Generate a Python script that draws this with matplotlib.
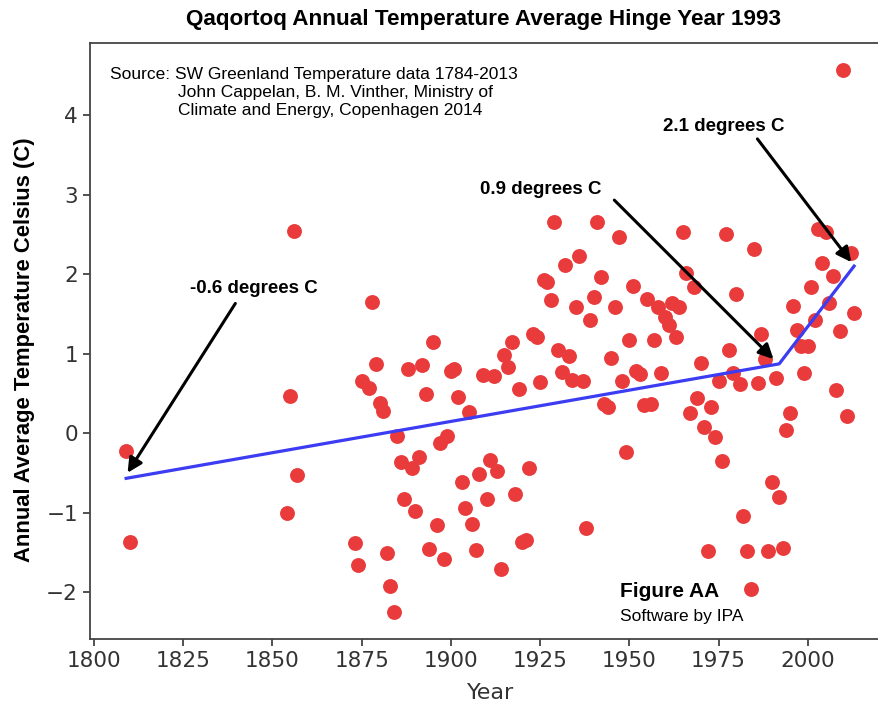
import matplotlib
matplotlib.use("Agg")
import matplotlib.pyplot as plt

# -- data --
years = [
    1809, 1810, 1854, 1855, 1856, 1857, 1873, 1874, 1875, 1877,
    1878, 1879, 1880, 1881, 1882, 1883, 1884, 1885, 1886, 1887,
    1888, 1889, 1890, 1891, 1892, 1893, 1894, 1895, 1896, 1897,
    1898, 1899, 1900, 1901, 1902, 1903, 1904, 1905, 1906, 1907,
    1908, 1909, 1910, 1911, 1912, 1913, 1914, 1915, 1916, 1917,
    1918, 1919, 1920, 1921, 1922, 1923, 1924, 1925, 1926, 1927,
    1928, 1929, 1930, 1931, 1932, 1933, 1934, 1935, 1936, 1937,
    1938, 1939, 1940, 1941, 1942, 1943, 1944, 1945, 1946, 1947,
    1948, 1949, 1950, 1951, 1952, 1953, 1954, 1955, 1956, 1957,
    1958, 1959, 1960, 1961, 1962, 1963, 1964, 1965, 1966, 1967,
    1968, 1969, 1970, 1971, 1972, 1973, 1974, 1975, 1976, 1977,
    1978, 1979, 1980, 1981, 1982, 1983, 1984, 1985, 1986, 1987,
    1988, 1989, 1990, 1991, 1992, 1993, 1994, 1995, 1996, 1997,
    1998, 1999, 2000, 2001, 2002, 2003, 2004, 2005, 2006, 2007,
    2008, 2009, 2010, 2011, 2012, 2013,
]
temps = [
    -0.23, -1.37, -1.01, 0.47, 2.54, -0.53, -1.38, -1.66, 0.66, 0.57,
    1.65, 0.87, 0.38, 0.28, -1.51, -1.93, -2.25, -0.04, -0.37, -0.83,
    0.81, -0.44, -0.98, -0.30, 0.85, 0.49, -1.46, 1.14, -1.16, -0.12,
    -1.58, -0.04, 0.78, 0.81, 0.45, -0.62, -0.94, 0.26, -1.14, -1.47,
    -0.52, 0.73, -0.83, -0.34, 0.72, -0.48, -1.71, 0.98, 0.83, 1.14,
    -0.77, 0.55, -1.37, -1.35, -0.44, 1.25, 1.21, 0.64, 1.93, 1.90,
    1.67, 2.65, 1.05, 0.77, 2.11, 0.97, 0.67, 1.59, 2.23, 0.66,
    -1.19, 1.42, 1.71, 2.65, 1.96, 0.37, 0.33, 0.94, 1.58, 2.46,
    0.66, -0.24, 1.17, 1.85, 0.78, 0.74, 0.35, 1.68, 0.36, 1.17,
    1.59, 0.75, 1.46, 1.36, 1.63, 1.21, 1.59, 2.53, 2.01, 0.25,
    1.84, 0.44, 0.88, 0.07, -1.48, 0.33, -0.05, 0.66, -0.35, 2.51,
    1.05, 0.75, 1.75, 0.62, -1.04, -1.49, -1.96, 2.31, 0.63, 1.24,
    0.93, -1.49, -0.61, 0.69, -0.81, -1.44, 0.04, 0.25, 1.60, 1.29,
    1.09, 0.76, 1.09, 1.84, 1.42, 2.57, 2.14, 2.53, 1.64, 1.97,
    0.54, 1.28, 4.57, 0.22, 2.27, 1.51,
]

# hinge fit: start, hinge, end
fit_years = [1809, 1992, 2013]
fit_temps = [-0.57, 0.87, 2.10]

# annotation labels, text centre and arrow tail/tip
ann_labels = ["-0.6 degrees C", "0.9 degrees C", "2.1 degrees C"]
ann_text_xy = [(1844.7, 1.82), (1925.2, 3.06), (1976.6, 3.85)]
ann_tail_xy = [(1839.6, 1.63), (1945.8, 2.93), (1985.9, 3.70)]
ann_tip_xy = [(1809.4, -0.50), (1990.4, 0.93), (2012.2, 2.15)]

source_lines = [
    "Source: SW Greenland Temperature data 1784-2013",
    "John Cappelan, B. M. Vinther, Ministry of",
    "Climate and Energy, Copenhagen 2014",
]

SANS = "Liberation Sans"
TICK_COLOR = "#333333"

fig = plt.figure(figsize=(8.79, 7.06), dpi=100)
ax = fig.add_axes([0.1021, 0.095, 0.911, 0.8445])

ax.scatter(years, temps, s=115, color="#e93b3b", zorder=2, linewidths=0)
ax.plot(fit_years, fit_temps, color="#3c3cf2", lw=2.3, zorder=3)

for label, txy, tail, tip in zip(ann_labels, ann_text_xy, ann_tail_xy, ann_tip_xy):
    ax.text(txy[0], txy[1], label, ha="center", va="center",
            fontsize=13.5, fontweight="bold", family=SANS, zorder=5)
    ax.annotate("", xy=tip, xytext=tail,
                arrowprops=dict(arrowstyle="-|>", color="black", lw=2.2,
                                mutation_scale=22, shrinkA=0, shrinkB=0),
                zorder=4)

ax.set_xlim(1798.8, 2023.2)
ax.set_ylim(-2.59, 4.91)
ax.set_xticks([1800, 1825, 1850, 1875, 1900, 1925, 1950, 1975, 2000])
ax.set_yticks([-2, -1, 0, 1, 2, 3, 4])
ax.tick_params(labelsize=15.5, colors=TICK_COLOR, width=1.2, length=5)
for side in ("left", "bottom", "top", "right"):
    ax.spines[side].set_color("#444444")
    ax.spines[side].set_linewidth(1.3)

ax.set_xlabel("Year", fontsize=16, color=TICK_COLOR, labelpad=9)
ax.set_ylabel("Annual Average Temperature Celsius (C)", fontsize=15.8,
              fontweight="bold", family=SANS)
ax.yaxis.set_label_coords(-0.068, 0.485)

# source note, top-left inside the axes
ax.text(0.025, 0.9475, source_lines[0], transform=ax.transAxes,
        fontsize=12.5, family=SANS, va="center", ha="left")
ax.text(0.110, 0.917, source_lines[1], transform=ax.transAxes,
        fontsize=12.5, family=SANS, va="center", ha="left")
ax.text(0.110, 0.886, source_lines[2], transform=ax.transAxes,
        fontsize=12.5, family=SANS, va="center", ha="left")

ax.text(0.662, 0.079, "Figure AA", transform=ax.transAxes,
        fontsize=15, fontweight="bold", family=SANS, va="center", ha="left")
ax.text(0.662, 0.037, "Software by IPA", transform=ax.transAxes,
        fontsize=12.5, family=SANS, va="center", ha="left")

fig.text(0.5495, 0.972, "Qaqortoq Annual Temperature Average Hinge Year 1993",
         ha="center", va="center", fontsize=16.2, fontweight="bold", family=SANS)

fig.savefig("out.png", dpi=100, facecolor="white")
